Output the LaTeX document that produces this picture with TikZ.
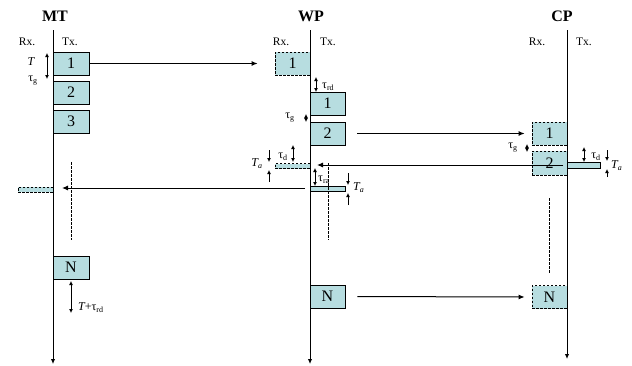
\documentclass[tikz,border=0pt]{standalone}
\usepackage{fontspec}
\setmainfont{Liberation Serif}
\usetikzlibrary{arrows.meta}
\definecolor{boxfill}{RGB}{183,221,224}
\tikzset{
  bx/.style={draw, fill=boxfill, line width=0.8pt, inner sep=0pt, minimum width=36pt, minimum height=23pt, font=\fontsize{16}{16}\selectfont},
  rxb/.style={bx, dash pattern=on 2.5pt off 1.5pt, minimum width=35pt},
  thin/.style={draw, fill=boxfill, line width=0.8pt, inner sep=0pt, minimum height=5pt},
  tl/.style={line width=1pt, -{Latex[length=5pt,width=4.5pt]}},
  msg/.style={line width=1pt, -{Latex[length=6pt,width=5pt]}},
  dbl/.style={line width=0.9pt, {Latex[length=4pt,width=4pt]}-{Latex[length=4pt,width=4pt]}},
  one/.style={line width=0.9pt, -{Latex[length=4pt,width=4pt]}},
  hd/.style={font=\bfseries\fontsize{16}{16}\selectfont},
  sub/.style={font=\fontsize{11.5}{11.5}\selectfont},
  sym/.style={font=\fontsize{12}{12}\selectfont, inner sep=0pt},
  dl/.style={line width=0.9pt, dash pattern=on 2.5pt off 1.5pt},
}
\begin{document}
\begin{tikzpicture}[x=1pt,y=-1pt]
\useasboundingbox (0,0) rectangle (632,365);
% headers
\node[hd] (hmt) at (55,16) {MT};
\node[hd] (hwp) at (311,16) {WP};
\node[hd] (hcp) at (562,16) {CP};
\node[sub] (rmt) at (27,42) {Rx.};
\node[sub] (tmt) at (70,42) {Tx.};
\node[sub] (rwp) at (281,42) {Rx.};
\node[sub] (twp) at (328,42) {Tx.};
\node[sub] (rcp) at (537,42) {Rx.};
\node[sub] (tcp) at (584,42) {Tx.};
% timelines
\coordinate (mttop) at (53,30); \coordinate (mtbot) at (53,364);
\coordinate (wptop) at (310,30); \coordinate (wpbot) at (310,364);
\coordinate (cptop) at (567,30); \coordinate (cpbot) at (567,359);
\draw[tl] (mttop) -- (mtbot);
\draw[tl] (wptop) -- (wpbot);
\draw[tl] (cptop) -- (cpbot);
% MT boxes
\node[bx] (mt1) at (71,63.5) {1};
\node[bx] (mt2) at (71,92.5) {2};
\node[bx] (mt3) at (71,121.5) {3};
\node[bx] (mtN) at (71,267.5) {N};
\node[thin, dash pattern=on 2.5pt off 1.5pt, minimum width=35pt] (mtra) at (35.5,189.5) {};
% WP boxes
\node[rxb] (wpr1) at (292.5,63.5) {1};
\node[bx, minimum width=35pt] (wp1) at (327.5,103.5) {1};
\node[bx, minimum width=35pt] (wp2) at (327.5,133.5) {2};
\node[bx, minimum width=35pt] (wpN) at (327.5,296.5) {N};
\node[thin, dash pattern=on 2.5pt off 1.5pt, minimum width=35pt] (wpra) at (292.5,166) {};
\node[thin, minimum width=35pt] (wpta) at (327.5,189) {};
% CP boxes
\node[rxb] (cpr1) at (549.5,133.5) {1};
\node[rxb, minimum height=24pt] (cpr2) at (549.5,163) {2};
\node[rxb] (cpN) at (549.5,297) {N};
\node[thin, minimum width=33pt, minimum height=6pt] (cpta) at (583.5,165.5) {};
% messages
\draw[msg, shorten >=17pt] (mt1.east) -- (wpr1.west);
\draw[msg, shorten <=12pt, shorten >=7pt] (wp2.east) -- (cpr1.west);
\draw[msg, shorten <=12pt, shorten >=7pt] (wpN.east) -- (cpN.west);
\coordinate (c3s) at (563,165);
\coordinate (c3e) at (317,165);
\draw[msg] (c3s) -- (c3e);
\coordinate (c4s) at (305,188);
\coordinate (c4e) at (62,188);
\draw[msg] (c4s) -- (c4e);
% dotted continuation lines
\draw[dl] (71,162) -- (71,240);
\draw[dl] (328,163) -- (328,240);
\draw[dl] (549,198) -- (549,273);
% MT annotations
\draw[dbl] (47,53) -- (47,79);
\node[sym] (lT) at (31,62) {\itshape T};
\node[sym] (ltg) at (33,81) {τ\textsubscript{g}};
\draw[dbl] (71,281) -- (71,313);
\node[sym, anchor=west] (ltr) at (78,308) {\itshape T\upshape+τ\textsubscript{rd}};
% WP annotations
\draw[dbl] (316,77) -- (316,92);
\node[sym, anchor=west] (lrd) at (322,87) {τ\textsubscript{rd}};
\draw[dbl] (306,114) -- (306,122);
\node[sym] (lwg) at (290,118) {τ\textsubscript{g}};
\draw[one] (269,150) -- (269,162);
\draw[one] (269,182) -- (269,170);
\node[sym] (lwa) at (257,164) {\itshape T\textsubscript{a}};
\draw[dbl] (293,145) -- (293,162);
\node[sym] (lwd) at (283,157) {τ\textsubscript{d}};
\draw[dbl] (315,168) -- (315,186);
\node[sym, anchor=west] (lra) at (318,180) {τ\textsubscript{ra}};
\draw[one] (348,173) -- (348,185);
\draw[one] (348,205) -- (348,193);
\node[sym, anchor=west] (lwa2) at (353,188) {\itshape T\textsubscript{a}};
% CP annotations
\draw[dbl] (584,147) -- (584,162);
\node[sym] (lcd) at (596,157) {τ\textsubscript{d}};
\draw[one] (607,150) -- (607,161);
\draw[one] (607,177) -- (607,169);
\node[sym, anchor=west] (lca) at (611,166) {\itshape T\textsubscript{a}};
\draw[dbl] (527,144) -- (527,152);
\node[sym] (lcg) at (513,148) {τ\textsubscript{g}};
\end{tikzpicture}
\end{document}
